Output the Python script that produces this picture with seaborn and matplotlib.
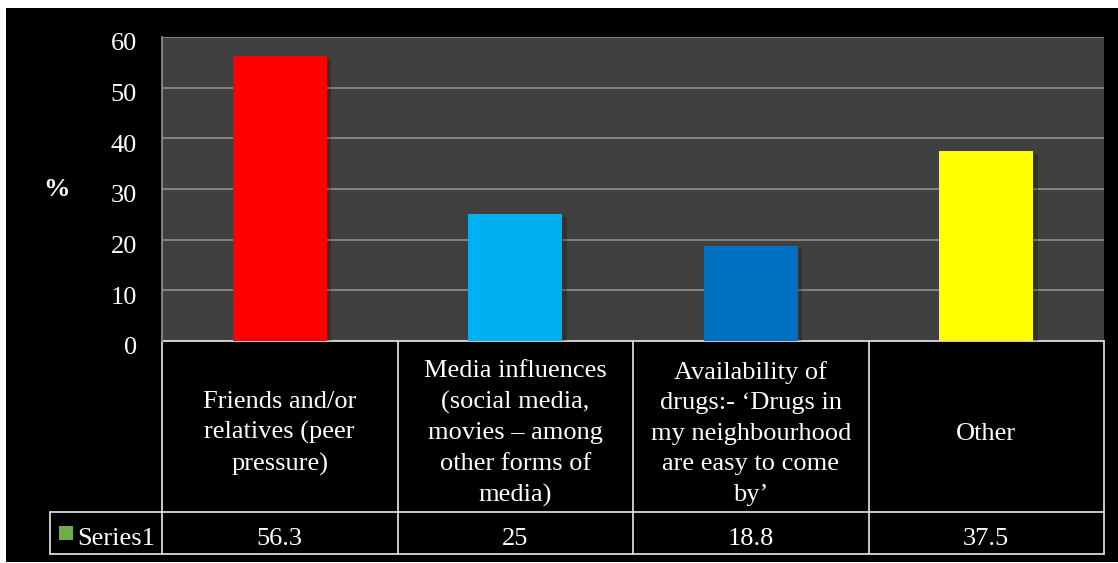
import matplotlib
matplotlib.use("Agg")
import matplotlib.pyplot as plt
import seaborn as sns
import pandas as pd
from matplotlib.patches import Rectangle
from matplotlib.lines import Line2D
import matplotlib.patheffects as pe
import matplotlib.transforms as mtrans

categories = [
    "Friends and/or\nrelatives (peer\npressure)",
    "Media influences\n(social media,\nmovies \u2013 among\nother forms of\nmedia)",
    "Availability of\ndrugs:- \u2018Drugs in\nmy neighbourhood\nare easy to come\nby\u2019",
    "Other",
]
values = [56.3, 25, 18.8, 37.5]
value_labels = ["56.3", "25", "18.8", "37.5"]
series_name = "Series1"
colors = ["#FF0000", "#00B0F0", "#0070C0", "#FFFF00"]
yticks = [0, 10, 20, 30, 40, 50, 60]

sns.set_theme(style="dark")
plt.rcParams["font.family"] = ["Liberation Serif", "DejaVu Serif"]

FS = 19
W, H = 1118, 563
fig = plt.figure(figsize=(W / 100, H / 100), dpi=100, facecolor="white")
fig.patches.append(Rectangle((6 / W, 1.5 / H), 1 - 6 / W, (H - 8 - 1.5) / H,
                             transform=fig.transFigure, facecolor="black",
                             edgecolor="none", zorder=-10))

left, right, top, bottom = 162, 1104, 37, 341
ax = fig.add_axes([left / W, (H - bottom) / H, (right - left) / W, (bottom - top) / H])
ax.set_facecolor("#404040")

df = pd.DataFrame({"cat": [str(i) for i in range(len(values))], "val": values})
sns.barplot(data=df, x="cat", y="val", hue="cat", palette=colors, legend=False,
            width=0.4, ax=ax, saturation=1, zorder=3, edgecolor="none", linewidth=0)
for p in ax.patches:
    p.set_path_effects([pe.SimplePatchShadow(offset=(3, -2), shadow_rgbFace="black", alpha=0.22), pe.Normal()])

ax.set_ylim(0, 60)
ax.set_xlim(-0.5, len(values) - 0.5)
ax.set_yticks(yticks)
ax.set_yticklabels([str(t) for t in yticks], color="white", fontsize=FS)
ax.tick_params(axis="y", length=0, pad=18)
off = mtrans.ScaledTranslation(0, -5 / 100, fig.dpi_scale_trans)
for lab in ax.get_yticklabels():
    lab.set_transform(lab.get_transform() + off)
ax.set_xticks([])
ax.set_xlabel("")
ax.set_ylabel("")
ax.yaxis.grid(True, color="#8a8a8a", linewidth=1.3, zorder=0)
ax.xaxis.grid(False)
for s in ["top", "right", "bottom"]:
    ax.spines[s].set_visible(False)
ax.spines["left"].set_visible(True)
ax.spines["left"].set_color("#8a8a8a")
ax.spines["left"].set_linewidth(1.3)

fig.text(57 / W, 1 - 190 / H, "%", color="white", fontsize=FS, fontweight="bold",
         ha="center", va="center")

# data table below plot
ph = bottom - top
pw = right - left
row1 = -(512 - bottom) / ph
row2 = -(554 - bottom) / ph
leg_left = (50 - left) / pw
lc = "#d8d8d8"
lw = 1.3
tr = ax.transAxes
def hl(x0, x1, y):
    ax.add_line(Line2D([x0, x1], [y, y], transform=tr, color=lc, lw=lw, clip_on=False))
def vl(x, y0, y1):
    ax.add_line(Line2D([x, x], [y0, y1], transform=tr, color=lc, lw=lw, clip_on=False))

n = len(values)
hl(0, 1, 0)
hl(leg_left, 1, row1)
hl(leg_left, 1, row2)
for i in range(n + 1):
    vl(i / n, row2, 0)
vl(leg_left, row2, row1)

vrow = (row1 + row2) / 2 - 6 / ph
for i, (c, v) in enumerate(zip(categories, value_labels)):
    xc = (i + 0.5) / n
    ax.text(xc, row1 / 2 - 7 / ph, c, transform=tr, ha="center", va="center", color="white",
            fontsize=FS, linespacing=1.5, clip_on=False)
    ax.text(xc, vrow, v, transform=tr, ha="center", va="center",
            color="white", fontsize=FS, clip_on=False)

# legend key
ax.add_patch(Rectangle((leg_left + 9 / pw, (row2 - row1) * 0 + row2 + 14 / ph), 14 / pw, 14 / ph,
                       transform=tr, facecolor="#70AD47", edgecolor="none", clip_on=False))
ax.text(leg_left + 27 / pw, vrow, series_name, transform=tr, ha="left",
        va="center", color="white", fontsize=FS, clip_on=False)

fig.savefig("out.png", dpi=100, facecolor="white")
